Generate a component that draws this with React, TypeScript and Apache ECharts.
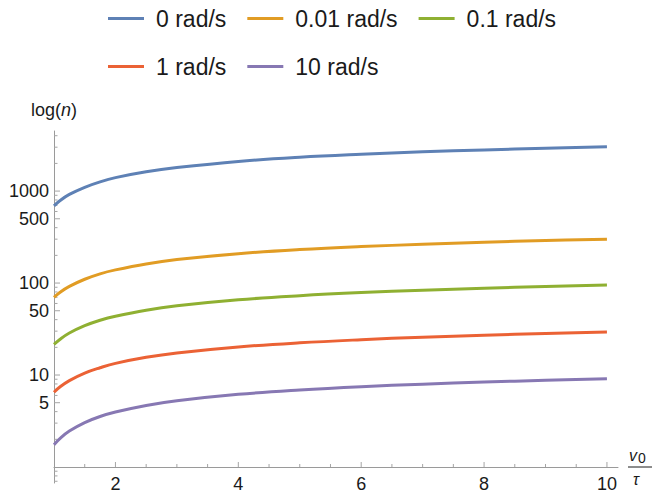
import React, { useEffect, useRef } from "react";
import * as echarts from "echarts";

// ---- data ----
const xValues = [1, 1.1, 1.25, 1.5, 1.75, 2, 2.5, 3, 4, 5, 6, 7, 8, 9, 10];
const seriesNames = ["0 rad/s", "0.01 rad/s", "0.1 rad/s", "1 rad/s", "10 rad/s"];
const n0 = [690, 790, 920, 1100, 1260, 1400, 1620, 1800, 2100, 2330, 2510, 2670, 2800, 2920, 3040];
const n001 = [70, 79.5, 92, 110, 126, 139, 161.5, 180, 208.5, 231, 249, 264, 278, 289.5, 300];
const n01 = [21.5, 24.5, 28.6, 34.4, 39.4, 43.6, 50.7, 56.5, 65.7, 72.8, 78.7, 83.6, 87.8, 91.6, 95];
const n1 = [6.5, 7.45, 8.7, 10.5, 12.0, 13.4, 15.6, 17.4, 20.2, 22.4, 24.2, 25.8, 27.1, 28.3, 29.3];
const n10 = [1.75, 2.05, 2.46, 3.04, 3.54, 3.96, 4.67, 5.25, 6.17, 6.88, 7.47, 7.96, 8.38, 8.76, 9.1];
const seriesValues = [n0, n001, n01, n1, n10];

const yMajorTicks = [5, 10, 50, 100, 500, 1000];
const yTickLabels = ["5", "10", "50", "100", "500", "1000"];
const yMinorTicks = [
  0.7, 0.8, 0.9, 2, 3, 4, 6, 7, 8, 9, 20, 30, 40, 60, 70, 80, 90, 200, 300, 400, 600, 700, 800, 900,
  2000, 3000, 4000,
];
const xMajorTicks = [2, 4, 6, 8, 10];
const xMinorTicks = [1.5, 2.5, 3, 3.5, 4.5, 5, 5.5, 6.5, 7, 7.5, 8.5, 9, 9.5];

const X_MIN = 1;
const X_MAX = 10.18;
const Y_MIN = 0.67;
const Y_MAX = 4500;

// ---- style ----
const COLORS = ["#5E81B5", "#E19C24", "#8FB032", "#EB6235", "#8778B3"];
const FONT = '"Liberation Sans", Arial, Helvetica, sans-serif';
const AXIS_COLOR = "#9a9a9a";
const TICK_COLOR = "#a5a5a5";
const TEXT_COLOR = "#1a1a1a";
const LABEL_SIZE = 18;

const GRID = { left: 54, right: 36, top: 131, bottom: 10 };
const PLOT_H = 493 - GRID.top - GRID.bottom;

function tickSeries(points: number[][], orient: "x" | "y", len: number) {
  return {
    type: "custom",
    silent: true,
    coordinateSystem: "cartesian2d",
    clip: false,
    z: 1,
    data: points,
    renderItem: (params: any, api: any) => {
      const p = api.coord([api.value(0), api.value(1)]);
      const shape =
        orient === "y"
          ? { x1: p[0], y1: p[1], x2: p[0] + len, y2: p[1] }
          : { x1: p[0], y1: p[1], x2: p[0], y2: p[1] - len };
      return { type: "line", shape, style: { stroke: TICK_COLOR, lineWidth: 1 } };
    },
  };
}

export default function App() {
  const ref = useRef<HTMLDivElement>(null);

  useEffect(() => {
    if (!ref.current) return;
    const chart = echarts.init(ref.current, undefined, { renderer: "svg" });

    const xOffset = -Math.round(
      (PLOT_H * (Math.log10(1) - Math.log10(Y_MIN))) / (Math.log10(Y_MAX) - Math.log10(Y_MIN))
    );

    const lineSeries = seriesNames.map((name, i) => ({
      name,
      type: "line",
      data: xValues.map((x, j) => [x, seriesValues[i][j]]),
      smooth: 0.4,
      showSymbol: false,
      symbol: "none",
      color: COLORS[i],
      lineStyle: { color: COLORS[i], width: 3 },
      z: 3,
    }));

    const yLabelSeries = {
      type: "custom",
      silent: true,
      coordinateSystem: "cartesian2d",
      clip: false,
      z: 1,
      data: yMajorTicks.map((v) => [X_MIN, v]),
      renderItem: (params: any, api: any) => {
        const p = api.coord([api.value(0), api.value(1)]);
        return {
          type: "text",
          x: p[0] - 5,
          y: p[1],
          style: {
            text: yTickLabels[params.dataIndex],
            fill: TEXT_COLOR,
            font: `${LABEL_SIZE}px ${FONT}`,
            textAlign: "right",
            textVerticalAlign: "middle",
            align: "right",
            verticalAlign: "middle",
          },
        };
      },
    };

    const legendCommon = {
      left: 103,
      icon: "rect",
      itemWidth: 36,
      itemHeight: 3,
      itemGap: 21,
      textStyle: {
        fontFamily: FONT,
        fontSize: 23,
        color: TEXT_COLOR,
        padding: [0, 0, 0, 7],
      },
    };

    chart.setOption({
      animation: false,
      backgroundColor: "#ffffff",
      grid: { ...GRID, containLabel: false, outerBoundsMode: "none" },
      legend: [
        { ...legendCommon, top: 2, data: seriesNames.slice(0, 3) },
        { ...legendCommon, top: 50, data: seriesNames.slice(3) },
      ],
      xAxis: {
        type: "value",
        min: X_MIN,
        max: X_MAX,
        interval: 0.5,
        offset: xOffset,
        axisLine: { show: true, lineStyle: { color: AXIS_COLOR, width: 1 } },
        axisTick: { show: false },
        splitLine: { show: false },
        axisLabel: {
          show: true,
          margin: 8,
          fontFamily: FONT,
          fontSize: LABEL_SIZE,
          color: TEXT_COLOR,
          showMaxLabel: false,
          showMinLabel: false,
          formatter: (v: number) => (xMajorTicks.indexOf(v) >= 0 ? String(v) : ""),
        },
      },
      yAxis: {
        type: "log",
        logBase: 10,
        min: Y_MIN,
        max: Y_MAX,
        axisLine: { show: true, lineStyle: { color: AXIS_COLOR, width: 1 } },
        axisTick: { show: false },
        axisLabel: { show: false },
        splitLine: { show: false },
        minorTick: { show: false },
        name: "{a|log(}{b|n}{a|)}",
        nameLocation: "end",
        nameGap: 12,
        nameTextStyle: {
          rich: {
            a: { fontFamily: FONT, fontSize: LABEL_SIZE, color: TEXT_COLOR },
            b: { fontFamily: FONT, fontSize: LABEL_SIZE, color: TEXT_COLOR, fontStyle: "italic" },
          },
        },
      },
      graphic: [
        {
          type: "text",
          x: 629,
          y: 455,
          style: {
            text: "v",
            font: `italic 16px ${FONT}`,
            fill: TEXT_COLOR,
            textAlign: "left",
            textVerticalAlign: "middle",
            align: "left",
            verticalAlign: "middle",
          },
        },
        {
          type: "text",
          x: 638,
          y: 458,
          style: {
            text: "0",
            font: `14px ${FONT}`,
            fill: TEXT_COLOR,
            textAlign: "left",
            textVerticalAlign: "middle",
            align: "left",
            verticalAlign: "middle",
          },
        },
        {
          type: "line",
          shape: { x1: 628, y1: 467, x2: 652, y2: 467 },
          style: { stroke: TEXT_COLOR, lineWidth: 1 },
        },
        {
          type: "text",
          x: 636,
          y: 479,
          style: {
            text: "τ",
            font: `italic 16px ${FONT}`,
            fill: TEXT_COLOR,
            textAlign: "center",
            textVerticalAlign: "middle",
            align: "center",
            verticalAlign: "middle",
          },
        },
      ],
      series: [
        tickSeries(yMajorTicks.map((v) => [X_MIN, v]), "y", 6),
        tickSeries(yMinorTicks.map((v) => [X_MIN, v]), "y", 3.5),
        tickSeries(xMajorTicks.map((v) => [v, 1]), "x", 5),
        tickSeries(xMinorTicks.map((v) => [v, 1]), "x", 3),
        yLabelSeries,
        ...lineSeries,
      ],
    });

    return () => chart.dispose();
  }, []);

  return (
    <div
      ref={ref}
      style={{ position: "absolute", left: 0, top: 0, width: 654, height: 493 }}
    />
  );
}
